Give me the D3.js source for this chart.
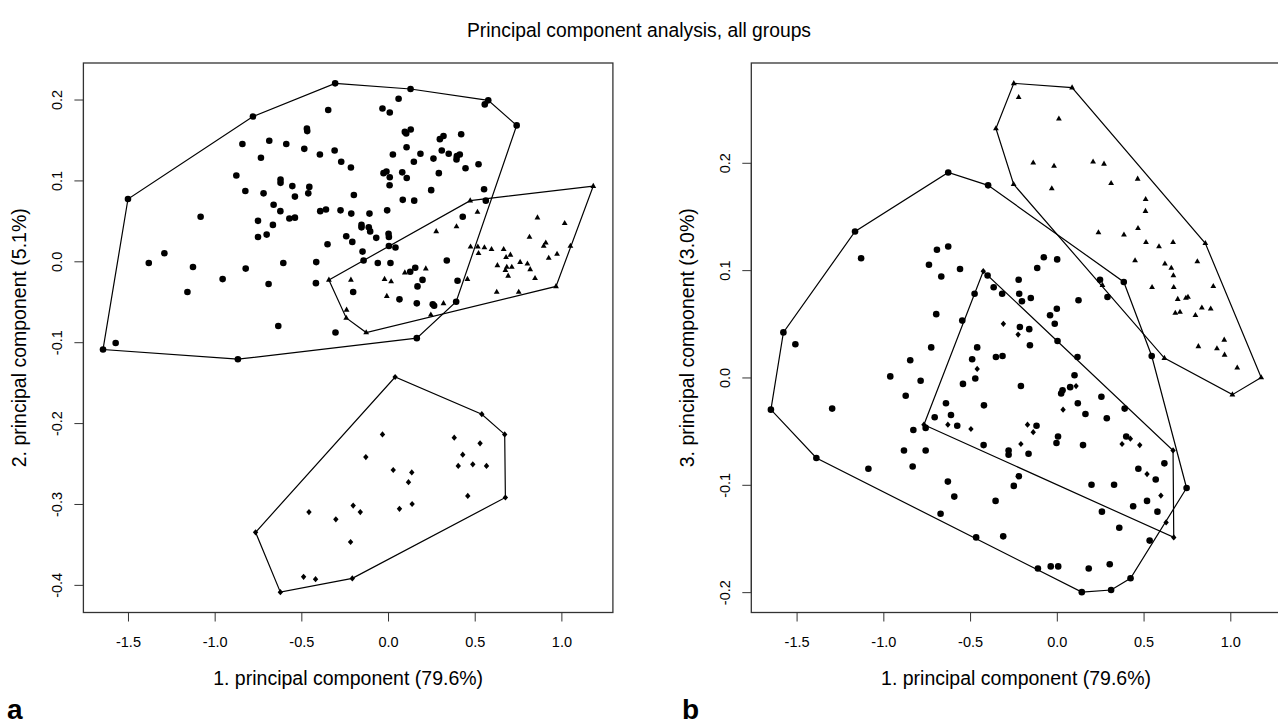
<!DOCTYPE html>
<html>
<head>
<meta charset="utf-8">
<script src="https://cdn.jsdelivr.net/npm/d3@7"></script>
<style>
body { margin: 0; background: #fff; }
text { font-family: "Liberation Sans", Arial, sans-serif; fill: #000; }
</style>
</head>
<body>
<div id="chart"></div>
<script>
var title = "Principal component analysis, all groups";
var xLabel = "1. principal component (79.6%)";
var yLabelA = "2. principal component (5.1%)";
var yLabelB = "3. principal component (3.0%)";

var pc1Ticks = [-1.5, -1.0, -0.5, 0.0, 0.5, 1.0];
var pc2Ticks = [-0.4, -0.3, -0.2, -0.1, 0.0, 0.1, 0.2];
var pc3Ticks = [-0.2, -0.1, 0.0, 0.1, 0.2];

// panel a: PC1 vs PC2
var aCircles = [[-1.644,-0.109],[-1.571,-0.101],[-1.500,0.077],[-0.866,-0.121],[-0.779,0.179],[-0.305,0.220],[0.130,0.213],[0.578,0.199],[0.558,0.194],[0.742,0.168],[0.393,-0.050],[0.166,-0.095],[-0.345,0.187],[-0.468,0.164],[-0.466,0.161],[-0.840,0.145],[-0.685,0.149],[-0.587,0.145],[-0.733,0.128],[-0.483,0.139],[-0.393,0.132],[-0.308,0.137],[-0.270,0.123],[-0.214,0.116],[-0.875,0.106],[-0.620,0.101],[-0.620,0.097],[-0.552,0.093],[-0.454,0.092],[-0.823,0.087],[-0.718,0.084],[-0.537,0.080],[-0.460,0.084],[-0.197,0.082],[-0.660,0.070],[-0.621,0.062],[-0.391,0.062],[-0.358,0.064],[-0.274,0.063],[-0.212,0.059],[-1.081,0.055],[-0.750,0.050],[-0.569,0.053],[-0.537,0.054],[-0.664,0.045],[-0.750,0.030],[-0.700,0.033],[-0.349,0.021],[-0.241,0.031],[-0.206,0.024],[-1.290,0.010],[0.061,0.201],[-0.032,0.189],[0.010,0.184],[0.097,0.160],[0.131,0.163],[0.105,0.158],[0.422,0.157],[0.299,0.151],[0.320,0.155],[0.107,0.141],[0.028,0.132],[0.149,0.123],[0.187,0.133],[0.262,0.127],[0.310,0.137],[0.350,0.133],[0.397,0.130],[0.414,0.132],[0.395,0.126],[0.447,0.115],[0.522,0.120],[-0.026,0.109],[-0.009,0.111],[0.010,0.104],[0.082,0.110],[0.108,0.103],[0.009,0.094],[0.293,0.109],[0.249,0.088],[0.554,0.089],[0.564,0.075],[0.085,0.076],[0.151,0.075],[-0.107,0.059],[-0.005,0.063],[0.431,0.055],[-0.153,0.045],[-0.153,0.042],[-0.111,0.042],[-0.103,0.037],[-0.068,0.029],[0.003,0.034],[0.005,0.030],[-0.147,0.012],[0.005,0.019],[0.043,0.017],[-0.414,-0.001],[-0.141,0.001],[-0.059,-0.002],[0.014,-0.002],[0.339,0.001],[0.128,-0.013],[0.157,-0.008],[0.199,-0.023],[0.170,-0.031],[0.401,-0.024],[-0.416,-0.027],[-0.201,-0.038],[0.066,-0.047],[0.166,-0.052],[0.258,-0.053],[0.266,-0.055],[-0.303,-0.088],[-1.380,-0.002],[-1.125,-0.007],[-1.157,-0.038],[-0.954,-0.022],[-0.821,-0.009],[-0.689,-0.028],[-0.604,-0.002],[-0.633,-0.080]];
var aTriangles = [[1.184,0.093],[0.474,0.075],[0.516,0.061],[0.278,0.037],[0.395,0.043],[0.862,0.054],[1.019,0.047],[0.816,0.030],[0.910,0.023],[0.898,0.019],[1.052,0.019],[0.476,0.018],[0.518,0.018],[0.556,0.017],[0.597,0.015],[0.522,0.010],[0.667,0.015],[0.706,0.008],[0.681,0.005],[0.927,0.004],[0.975,0.009],[-0.341,-0.023],[-0.214,-0.023],[-0.020,-0.022],[0.018,-0.025],[0.097,-0.014],[0.218,-0.009],[-0.007,-0.043],[-0.239,-0.060],[-0.241,-0.070],[-0.126,-0.088],[0.247,-0.066],[0.320,-0.052],[0.458,-0.022],[0.631,-0.005],[0.685,-0.007],[0.677,-0.011],[0.714,-0.007],[0.693,-0.018],[0.762,-0.001],[0.804,-0.003],[0.820,-0.010],[0.848,-0.021],[0.627,-0.038],[0.754,-0.038],[0.969,-0.031]];
var aDiamonds = [[0.041,-0.143],[0.541,-0.189],[0.673,-0.214],[0.677,-0.292],[-0.206,-0.392],[-0.621,-0.409],[-0.764,-0.335],[-0.032,-0.214],[0.382,-0.218],[0.531,-0.225],[0.431,-0.239],[0.405,-0.253],[0.489,-0.251],[0.568,-0.253],[-0.128,-0.242],[0.030,-0.258],[0.137,-0.261],[0.118,-0.273],[0.460,-0.290],[-0.201,-0.302],[-0.160,-0.310],[0.066,-0.306],[0.139,-0.300],[-0.456,-0.310],[-0.301,-0.319],[-0.216,-0.347],[-0.487,-0.390],[-0.418,-0.393]];

// panel b: PC1 vs PC3
var bCircles = [[-0.626,0.191],[-0.396,0.179],[-1.163,0.136],[-1.128,0.111],[-0.691,0.119],[-0.626,0.122],[-0.737,0.105],[-0.666,0.094],[-0.558,0.101],[-0.399,0.095],[-0.364,0.084],[-0.315,0.078],[-0.474,0.078],[0.386,0.089],[0.249,0.091],[-0.075,0.112],[0.002,0.110],[-0.113,0.102],[-0.220,0.091],[-0.217,0.078],[-0.201,0.071],[-0.150,0.074],[0.125,0.072],[0.292,0.075],[0.000,0.064],[-0.545,0.053],[-0.039,0.058],[-0.012,0.050],[-0.213,0.047],[-0.159,0.045],[-0.155,0.030],[0.004,0.034],[-0.459,0.028],[-0.488,0.017],[-0.351,0.019],[-0.313,0.020],[-0.470,-0.001],[-0.541,-0.006],[-0.207,-0.008],[0.119,0.019],[0.102,0.002],[0.077,-0.009],[0.033,-0.012],[0.025,-0.015],[0.257,-0.018],[-0.420,-0.026],[0.121,-0.024],[0.165,-0.034],[0.288,-0.038],[0.391,-0.029],[-0.117,-0.045],[0.007,-0.055],[-0.002,-0.061],[-0.422,-0.063],[0.151,-0.063],[-0.695,0.059],[-1.576,0.042],[-1.507,0.031],[-0.724,0.028],[-0.845,0.016],[-0.960,0.001],[-0.785,-0.003],[-0.871,-0.017],[-0.639,-0.024],[-1.648,-0.030],[-1.295,-0.029],[-0.704,-0.037],[-0.610,-0.035],[-0.756,-0.047],[-0.574,-0.045],[-0.827,-0.049],[-1.386,-0.075],[-1.086,-0.085],[-0.881,-0.068],[-0.831,-0.083],[-0.756,-0.068],[-0.278,-0.068],[-0.278,-0.072],[-0.163,-0.071],[-0.219,-0.092],[-0.248,-0.101],[-0.628,-0.097],[-0.591,-0.111],[-0.353,-0.115],[-0.670,-0.127],[-0.465,-0.149],[-0.309,-0.148],[-0.109,-0.178],[-0.035,-0.176],[0.008,-0.176],[0.184,-0.178],[0.305,-0.174],[0.144,-0.200],[0.313,-0.198],[0.425,-0.187],[0.547,0.020],[0.748,-0.103],[0.535,-0.152],[0.400,-0.055],[0.470,-0.085],[0.570,-0.095],[0.620,-0.080],[0.520,-0.115],[0.580,-0.125],[0.440,-0.120],[0.330,-0.100],[0.260,-0.125],[0.360,-0.140],[0.200,-0.100]];
var bTriangles = [[-0.248,0.274],[0.088,0.270],[-0.351,0.232],[-0.249,0.180],[-0.220,0.261],[0.012,0.241],[-0.136,0.200],[-0.016,0.197],[0.209,0.201],[0.272,0.199],[0.313,0.181],[0.466,0.185],[-0.029,0.176],[0.512,0.166],[0.511,0.155],[0.468,0.139],[0.240,0.135],[0.387,0.133],[0.514,0.126],[0.589,0.122],[0.670,0.126],[0.856,0.125],[0.451,0.109],[0.623,0.106],[0.660,0.102],[0.672,0.095],[0.810,0.108],[0.549,0.084],[0.674,0.084],[0.902,0.085],[0.697,0.073],[0.744,0.074],[0.756,0.075],[0.836,0.065],[0.887,0.064],[0.263,0.086],[0.683,0.060],[0.710,0.061],[0.799,0.058],[0.816,0.029],[0.923,0.027],[0.965,0.035],[0.967,0.021],[1.040,0.009],[1.178,0.000],[1.012,-0.016],[0.620,0.018]];
var bDiamonds = [[-0.424,0.099],[-0.308,0.050],[-0.223,0.040],[-0.459,0.008],[0.111,-0.008],[0.036,-0.030],[-0.169,-0.044],[-0.136,-0.051],[-0.495,-0.048],[-0.207,-0.062],[0.376,-0.062],[0.424,-0.057],[0.478,-0.063],[-0.766,-0.044],[-0.628,-0.044],[0.670,-0.068],[0.674,-0.149],[0.600,-0.110],[0.630,-0.135],[0.520,-0.090]];

var W = 1278, H = 726;
var svg = d3.select("#chart").append("svg")
  .attr("width", W)
  .attr("height", H);

svg.append("text")
  .attr("x", 639).attr("y", 37)
  .attr("text-anchor", "middle")
  .style("font-size", "19.3px")
  .text(title);

// R style range: data extent widened by 4%
function rRange(vals) {
  var e = d3.extent(vals);
  var d = (e[1] - e[0]) * 0.04;
  return [e[0] - d, e[1] + d];
}

// R prints a plain hyphen for negatives
function fmt(d) { return d.toFixed(1); }

var triPath = "M0,-3.3L2.9,1.8L-2.9,1.8Z";
var diaPath = "M0,-3.1L2.7,0L0,3.1L-2.7,0Z";

function drawPanel(left, groups, yTicks, yLabel, letter, letterX) {
  var top = 63, bottom = 612.5, right = left + 529.5;
  var all = [].concat(groups[0], groups[1], groups[2]);
  var x = d3.scaleLinear().domain(rRange(all.map(function(d) { return d[0]; }))).range([left, right]);
  var y = d3.scaleLinear().domain(rRange(all.map(function(d) { return d[1]; }))).range([bottom, top]);

  var g = svg.append("g");

  // hulls
  groups.forEach(function(pts) {
    var hull = d3.polygonHull(pts.map(function(d) { return [x(d[0]), y(d[1])]; }));
    g.append("path")
      .attr("d", "M" + hull.join("L") + "Z")
      .attr("fill", "none")
      .attr("stroke", "#000")
      .attr("stroke-width", 1.2);
  });

  g.selectAll(".circ").data(groups[0]).enter().append("circle")
    .attr("cx", function(d) { return x(d[0]); })
    .attr("cy", function(d) { return y(d[1]); })
    .attr("r", 3.3)
    .attr("fill", "#000");

  g.selectAll(".tri").data(groups[1]).enter().append("path")
    .attr("d", triPath)
    .attr("transform", function(d) { return "translate(" + x(d[0]) + "," + y(d[1]) + ")"; })
    .attr("fill", "#000");

  g.selectAll(".dia").data(groups[2]).enter().append("path")
    .attr("d", diaPath)
    .attr("transform", function(d) { return "translate(" + x(d[0]) + "," + y(d[1]) + ")"; })
    .attr("fill", "#000");

  // box
  g.append("rect")
    .attr("x", left).attr("y", top)
    .attr("width", right - left).attr("height", bottom - top)
    .attr("fill", "none")
    .attr("stroke", "#333")
    .attr("stroke-width", 1.3);

  // x axis
  var xa = g.append("g")
    .attr("transform", "translate(0," + bottom + ")")
    .call(d3.axisBottom(x).tickValues(pc1Ticks).tickFormat(fmt).tickSize(9).tickPadding(15));
  xa.select(".domain").attr("d", "M" + x(pc1Ticks[0]) + ",0H" + x(pc1Ticks[pc1Ticks.length - 1])).attr("stroke", "#333");
  xa.selectAll(".tick line").attr("stroke", "#333");
  xa.selectAll("text").style("font-size", "14.5px").style("font-family", "Liberation Sans, Arial, sans-serif");

  // y axis
  var ya = g.append("g")
    .attr("transform", "translate(" + left + ",0)")
    .call(d3.axisLeft(y).tickValues(yTicks).tickFormat(fmt).tickSize(9));
  ya.select(".domain").attr("d", "M0," + y(yTicks[0]) + "V" + y(yTicks[yTicks.length - 1])).attr("stroke", "#333");
  ya.selectAll(".tick line").attr("stroke", "#333");
  ya.selectAll("text")
    .attr("x", null).attr("dy", null)
    .attr("text-anchor", "middle")
    .attr("transform", "translate(-21,0) rotate(-90)")
    .style("font-size", "14.5px")
    .style("font-family", "Liberation Sans, Arial, sans-serif");

  svg.append("text")
    .attr("x", (left + right) / 2).attr("y", 685)
    .attr("text-anchor", "middle")
    .style("font-size", "19.5px")
    .text(xLabel);

  svg.append("text")
    .attr("transform", "translate(" + (left - 57) + "," + ((top + bottom) / 2) + ") rotate(-90)")
    .attr("text-anchor", "middle")
    .style("font-size", "19.5px")
    .text(yLabel);

  svg.append("text")
    .attr("x", letterX).attr("y", 719)
    .style("font-size", "28px")
    .style("font-weight", "bold")
    .text(letter);
}

drawPanel(83.4, [aCircles, aTriangles, aDiamonds], pc2Ticks, yLabelA, "a", 7);
drawPanel(751.3, [bCircles, bTriangles, bDiamonds], pc3Ticks, yLabelB, "b", 682);
</script>
</body>
</html>
